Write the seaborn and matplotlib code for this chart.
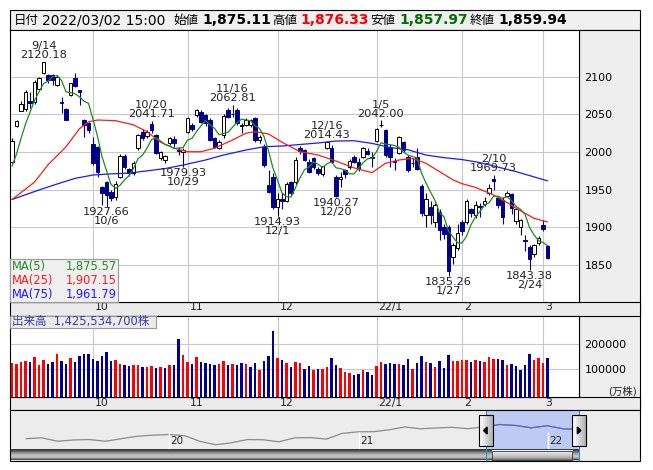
import numpy as np
import pandas as pd
import matplotlib
matplotlib.use('Agg')
import matplotlib.pyplot as plt
import matplotlib.transforms as mtransforms
from matplotlib.patches import Rectangle, Polygon
import seaborn as sns

# ── data ────────────────────────────────────────────────
holidays = ['2021-09-20', '2021-09-23', '2021-11-03', '2021-11-23', '2021-12-31',
            '2022-01-03', '2022-01-10', '2022-02-11', '2022-02-23']
dates = pd.bdate_range('2021-09-03', '2022-03-02')
dates = dates[~dates.isin(pd.to_datetime(holidays))]

opens = [1987, 2034, 2055, 2057.5, 2068, 2067, 2084, 2105, 2102, 2102,
         2089, 2067, 2057.5, 2075.6, 2098, 2082, 2042.5, 2038, 2010, 2007,
         1954, 1960.6, 1947, 1940, 1967, 1994.7, 1977, 1972, 2005, 2027,
         2021, 2037, 2022.6, 1992, 1989.4, 2011.5, 2017, 2003, 2000, 2027,
         2036, 2049, 2053.5, 2049, 2042.5, 2018, 2006, 2022, 2056, 2051,
         2056, 2034, 2036, 2036, 2045, 2016, 2007, 1956, 1967, 1927,
         1938, 1935.5, 1960.6, 1960.6, 2006, 2002.7, 1987, 1991.6, 1977, 1971,
         2006, 2004.8, 1967, 1964, 1976, 1980, 1993.8, 1986.7, 1993.8, 2002,
         1993, 2015, 2035.8, 2028.8, 2007, 1988, 1999, 2013, 1993.8, 1986,
         1993.8, 1955, 1916, 1927.5, 1907.5, 1921, 1901, 1901, 1861, 1872,
         1907.5, 1907.5, 1924, 1916, 1928, 1931, 1945, 1964, 1938.5, 1936,
         1942, 1944, 1909, 1901, 1883, 1874, 1864, 1879, 1903, 1875.11]
highs = [2018, 2043, 2068, 2082, 2080, 2095, 2100, 2120.18, 2103, 2104,
         2102, 2073, 2059, 2092, 2105, 2083, 2044, 2040, 2020, 2008,
         1955, 1962, 1950, 1962, 1997, 1997, 1979, 1988, 2024, 2030,
         2029, 2041.71, 2024, 2002, 1996, 2020, 2021, 2007, 2005, 2046,
         2038, 2057, 2056, 2051, 2045, 2020, 2016, 2050, 2058, 2062.81,
         2058, 2038, 2045, 2044, 2047, 2023, 2010, 1976, 1972, 1945,
         1945, 1960, 1962, 1993, 2008, 2004, 1991, 1994, 1980, 1982,
         2014.43, 2009, 1969, 1973, 1978, 1991, 1996, 1992, 2007, 2006,
         2000, 2032, 2042.00, 2030, 2010, 1992, 2021, 2015, 1996, 1992,
         2005, 1958, 1946, 1935, 1932, 1925, 1905, 1903, 1879, 1905,
         1910, 1937, 1926, 1935, 1932, 1940, 1957, 1969.73, 1941, 1940,
         1948, 1946, 1926, 1911, 1890, 1876, 1878, 1888, 1909.7, 1876.33]
lows = [1985, 2033, 2054, 2055, 2059, 2064, 2082, 2104, 2091, 2089,
        2087, 2052, 2042, 2074, 2086, 2062, 2020, 2025, 1983, 1967,
        1930, 1927.66, 1935, 1936, 1965, 1978, 1968, 1970, 2003, 2016,
        2018, 2025, 1997, 1990, 1985, 2009, 2007, 1996, 1979.93, 2025,
        2028, 2047, 2038, 2035, 2014, 2005, 2004, 2018, 2045, 2046,
        2036, 2025, 2034, 2033, 2013, 2012, 1980, 1945, 1925, 1914.93,
        1925, 1933, 1943, 1958, 1998, 1988, 1972, 1978, 1970, 1968,
        2004, 1985, 1940.27, 1954, 1965, 1978, 1985, 1975, 1992, 1996,
        1980, 2013, 2033, 1993, 1980, 1976, 1997, 2000, 1973, 1980,
        1976, 1915, 1901, 1905, 1900, 1883, 1885, 1835.26, 1852, 1870,
        1890, 1905, 1914, 1912, 1914, 1928, 1943, 1950, 1926, 1905,
        1940, 1918, 1905, 1890, 1868, 1843.38, 1860, 1876, 1895, 1857.97]
closes = [2014, 2041, 2064, 2080, 2065, 2092.5, 2098, 2119, 2095.5, 2095,
          2100, 2065.5, 2043, 2091, 2087, 2080, 2036, 2029, 1985, 1974,
          1945, 1943, 1938.5, 1958, 1994.7, 1980.5, 1971.7, 1986, 2022.6, 2018,
          2027, 2029, 1999, 2000.4, 1994.7, 2018, 2011.5, 2002, 2002.7, 2044.7,
          2030, 2056, 2040.3, 2038, 2016, 2007, 2013.7, 2048, 2046, 2050,
          2038, 2036, 2042.5, 2042, 2016, 2020, 1982.6, 1947, 1927, 1937,
          1935, 1957.5, 1945, 1989.4, 2002, 1989.4, 1974, 1980.5, 1972.6, 1981.6,
          2013, 1987, 1941, 1967.5, 1971, 1988.5, 1987, 1977, 2005, 1998,
          1992, 2030.5, 2036, 1996, 1994, 1987, 2019.5, 2002.7, 1976, 1985,
          1978, 1918.6, 1937, 1916, 1929.6, 1896.5, 1891, 1842, 1876.5, 1892,
          1894.5, 1935.4, 1918.6, 1929.6, 1927.5, 1935.5, 1952, 1962, 1929.6, 1914,
          1946, 1926, 1924, 1909.7, 1882, 1858, 1876, 1886.4, 1897.5, 1859.94]
# 出来高 (万株)
volumes = [124300, 120300, 129700, 133800, 129700, 148600, 116200, 136500, 120300, 128400,
           160800, 132400, 120300, 144600, 128400, 152700, 160800, 159500, 140500, 132400,
           152700, 168900, 132400, 136500, 120300, 114900, 112200, 116200, 116200, 108100,
           108100, 112200, 104100, 108100, 104100, 116200, 116200, 221600, 156800, 128400,
           120300, 148600, 128400, 124300, 121600, 116200, 120300, 132400, 116200, 120300,
           116200, 124300, 120300, 108100, 124300, 95900, 132400, 152700, 254100, 144600,
           137800, 124300, 108100, 128400, 124300, 100000, 112200, 95900, 100000, 100000,
           108100, 145900, 116200, 104100, 87800, 83800, 77000, 79700, 95900, 87800,
           75700, 112200, 128400, 120300, 124300, 121600, 120300, 116200, 140500, 100000,
           124300, 152700, 128400, 124300, 108100, 132400, 104100, 156800, 132400, 132400,
           136500, 136500, 128400, 136500, 132400, 128400, 148600, 140500, 140500, 136500,
           116200, 120300, 112200, 95900, 116200, 160800, 136500, 144600, 124300, 142553.47]
prior_closes = [1960, 1961, 1984, 1987]

ma25_idx = [0, 5, 8, 12, 15, 17, 19, 23, 27, 30, 33, 36, 39, 42, 45, 49, 52, 54, 57, 60,
            64, 68, 72, 76, 80, 83, 86, 89, 92, 95, 98, 100, 103, 107, 110, 113, 116, 119]
ma25_val = [1937, 1960, 1983, 2007, 2031, 2040, 2042.5, 2041.6, 2036, 2027,
            2013, 2005, 2000.4, 2000.4, 2005, 2016, 2025, 2027, 2024, 2013,
            2000.4, 1996, 1988, 1979, 1972.6, 1985, 1989.4, 1991.5, 1985, 1974,
            1963, 1958, 1953, 1943, 1933, 1922, 1912, 1907.15]
ma75_idx = [0, 6, 10, 14, 18, 22, 26, 30, 34, 38, 43, 47, 52, 56, 60,
            64, 68, 72, 76, 80, 84, 88, 92, 96, 100, 104, 108, 112, 116, 119]
ma75_val = [1937, 1949.6, 1957.5, 1965, 1969.5, 1971, 1972, 1975, 1978, 1982.7,
            1989.4, 1996, 2002.7, 2007, 2008, 2010, 2012, 2014.6, 2015, 2011.5,
            2006, 2003, 1996, 1992.5, 1990, 1986, 1980, 1974, 1967, 1961.79]

hi_marks = [7, 31, 49, 70, 82, 107]
lo_marks = [21, 38, 59, 72, 97, 115]

# navigator (long history, month end)
nav_dates = list(pd.date_range('2019-04-01', '2022-03-01', freq='MS') - pd.Timedelta(days=1)) + [dates[-1]]
nav_vals = [1591.64, 1617.93, 1512.28, 1551.14, 1565.14, 1511.86, 1587.80, 1667.01, 1699.36, 1721.36,
            1684.44, 1510.87, 1403.04, 1464.03, 1563.67, 1558.77, 1496.06, 1618.18, 1625.49, 1579.33,
            1754.92, 1804.68, 1808.78, 1864.49, 1954.00, 1898.24, 1922.98, 1943.57, 1901.08, 1960.70,
            2030.16, 2001.18, 1928.35, 1992.33, 1895.93, 1886.93, 1859.94]

# ── derived ─────────────────────────────────────────────
n = len(dates)
idx = np.arange(n)
o = np.array(opens); h = np.array(highs); l = np.array(lows); c = np.array(closes)
ma5 = pd.Series(prior_closes + closes).rolling(5).mean().iloc[4:].to_numpy()
up = c >= o
prev = np.r_[prior_closes[-1], c[:-1]]
vol_up = c >= prev
month_idx = [i for i in range(1, n) if dates[i].month != dates[i - 1].month]
month_lbl = [f"{dates[i].year % 100}/{dates[i].month}" if dates[i].month == 1 else str(dates[i].month)
             for i in month_idx]

# ── style ───────────────────────────────────────────────
sns.set_theme(style='white')
plt.rcParams['font.family'] = ['DejaVu Sans', 'Noto Sans CJK JP']
plt.rcParams['axes.linewidth'] = 0.8

NAVY = '#00008b'; VRED = '#ff0000'; VNAVY = '#000099'
GREEN = '#1e8c1e'; RED = '#ff1a1a'; BLUE = '#1a1aff'
GRID = '#c8c8c8'; PANEL = '#eeeeee'; TXT = '#222222'

W, H = 653, 470
fig = plt.figure(figsize=(W / 100, H / 100), dpi=100)
fig.patch.set_facecolor('white')


def px_axes(x0, y0, x1, y1, z):
    a = fig.add_axes([x0 / W, 1 - y1 / H, (x1 - x0) / W, (y1 - y0) / H])
    a.set_zorder(z)
    return a


def rect(a, x0, y0, x1, y1, fc, ec='none', lw=0.8, z=1):
    a.add_patch(Rectangle((x0, y0), x1 - x0, y1 - y0, facecolor=fc, edgecolor=ec, lw=lw, zorder=z))


bg = px_axes(0, 0, W, H, 0)
bg.set_xlim(0, W); bg.set_ylim(H, 0); bg.axis('off')
rect(bg, 10, 9.5, 640, 30, '#f0f0f0', 'black')
rect(bg, 579, 30, 640, 410, PANEL, 'black')
rect(bg, 10, 302, 640, 315.7, '#ebebeb', 'black')
rect(bg, 10, 397, 640, 410, '#ebebeb', 'black')

# header
hdr = [('日付', 13.5, 9, 'normal', 'black'),
       (dates[-1].strftime('%Y/%m/%d') + ' 15:00', 41.5, 10, 'normal', 'black'),
       ('始値', 173, 9, 'normal', 'black'), (f'{opens[-1]:,.2f}', 202, 10, 'bold', 'black'),
       ('高値', 272, 9, 'normal', 'black'), (f'{highs[-1]:,.2f}', 300, 10, 'bold', '#ff0000'),
       ('安値', 370, 9, 'normal', 'black'), (f'{lows[-1]:,.2f}', 399, 10, 'bold', '#007000'),
       ('終値', 470, 9, 'normal', 'black'), (f'{closes[-1]:,.2f}', 498, 10, 'bold', 'black')]
for s, x, fs, fw, col in hdr:
    bg.text(x, 20.5, s, ha='left', va='center', fontsize=fs, fontweight=fw, color=col)

# ── price panel ─────────────────────────────────────────
ax = px_axes(10, 30, 579, 302, 2)
ax.set_facecolor('white')
ax.vlines(idx, l, h, colors=np.where(up, 'black', NAVY), lw=0.8, zorder=2)
ax.bar(idx, np.maximum(np.abs(c - o), 0.6), bottom=np.minimum(o, c), width=0.78,
       color=np.where(up, 'white', NAVY), edgecolor=np.where(up, 'black', NAVY), lw=0.7, zorder=3)
sns.lineplot(x=ma75_idx, y=ma75_val, ax=ax, color=BLUE, lw=0.9, zorder=4)
sns.lineplot(x=ma25_idx, y=ma25_val, ax=ax, color=RED, lw=0.9, zorder=4)
sns.lineplot(x=idx, y=ma5, ax=ax, color=GREEN, lw=0.9, zorder=4)

for i in hi_marks:
    d = dates[i]
    ax.annotate(f'{d.month}/{d.day}\n{highs[i]:.2f}', (i, highs[i]), xytext=(0, 1),
                textcoords='offset points', ha='center', va='bottom', fontsize=8.2,
                linespacing=0.9, color=TXT, zorder=6)
for i in lo_marks:
    d = dates[i]
    ax.annotate(f'{lows[i]:.2f}\n{d.month}/{d.day}', (i, lows[i]), xytext=(0, -0.5),
                textcoords='offset points', ha='center', va='top', fontsize=8.2,
                linespacing=0.9, color=TXT, zorder=6)

ax.set_xlim(-0.45, 126)
ax.set_ylim(1800.9, 2162)
ax.set_xticks(month_idx); ax.set_xticklabels([])
ax.set_yticks(range(1850, 2101, 50))
ax.yaxis.tick_right()
ax.tick_params(axis='both', length=0)
ax.tick_params(axis='y', pad=4, labelsize=8, labelcolor='black')
ax.grid(True, color=GRID, lw=0.8)
ax.set_axisbelow(True)
for sp in ax.spines.values():
    sp.set_color('black'); sp.set_linewidth(0.8)
trans = mtransforms.blended_transform_factory(ax.transData, ax.transAxes)
for i, s in zip(month_idx, month_lbl):
    ax.text(i + 0.4, -0.02, s, transform=trans, ha='left', va='center', fontsize=7.8,
            color=TXT, clip_on=False)

# ── volume panel ────────────────────────────────────────
vfloor = -13400
av = px_axes(10, 315.7, 579, 397, 2)
av.set_facecolor('white')
av.bar(idx, np.array(volumes) - vfloor, bottom=vfloor, width=0.6,
       color=np.where(vol_up, VRED, VNAVY), lw=0, zorder=3)
av.set_xlim(-0.45, 126)
av.set_ylim(vfloor, 315800)
av.set_xticks(month_idx); av.set_xticklabels([])
av.set_yticks([100000, 200000]); av.set_yticklabels(['100000', '200000'])
av.yaxis.tick_right()
av.tick_params(axis='both', length=0)
av.tick_params(axis='y', pad=4, labelsize=8, labelcolor='black')
av.grid(True, color=GRID, lw=0.8)
av.set_axisbelow(True)
for sp in av.spines.values():
    sp.set_color('black'); sp.set_linewidth(0.8)
tv = mtransforms.blended_transform_factory(av.transData, av.transAxes)
for i, s in zip(month_idx, month_lbl):
    av.text(i + 0.4, -0.07, s, transform=tv, ha='left', va='center', fontsize=7.8,
            color=TXT, clip_on=False)
bg.text(637, 391, '(万株)', ha='right', va='center', fontsize=7.5, color=TXT)

# ── navigator ───────────────────────────────────────────
NAV_T, NAV_B, SB_T = 410, 461, 450
nav_x0, nav_x1 = pd.Timestamp('2019-02-28'), pd.Timestamp('2022-06-28')


def nav_px(d):
    return 10 + (pd.Timestamp(d) - nav_x0).days / (nav_x1 - nav_x0).days * 630


an = px_axes(10, NAV_T, 640, NAV_B, 2)
an.set_facecolor('#ececec')
an.axvspan(dates[0], dates[-1], color='#bccaf4', lw=0)
sns.lineplot(x=nav_dates, y=nav_vals, ax=an, color='#8a8a8a', lw=0.9)
sel = [k for k, d in enumerate(nav_dates) if d >= pd.Timestamp('2021-08-31')]
sns.lineplot(x=[nav_dates[k] for k in sel], y=[nav_vals[k] for k in sel], ax=an,
             color='#6068c0', lw=0.9)
an.set_xlim(nav_x0, nav_x1)
an.set_ylim(900, 2480)
an.set_xticks([]); an.set_yticks([])
an.set_xlabel(''); an.set_ylabel('')
for sp in an.spines.values():
    sp.set_visible(False)

# ── overlay (legend boxes, nav controls) ───────────────
ov = px_axes(0, 0, W, H, 10)
ov.set_xlim(0, W); ov.set_ylim(H, 0); ov.axis('off')
ov.patch.set_alpha(0)

rect(ov, 10, 259, 118, 302, '#efefef', '#999999')
ma_rows = [('MA(5)', ma5[-1], GREEN, 266.5), ('MA(25)', ma25_val[-1], RED, 280.5),
           ('MA(75)', ma75_val[-1], BLUE, 294.5)]
for name, val, col, y in ma_rows:
    ov.text(12, y, name, ha='left', va='center', fontsize=8.3, color=col)
    ov.text(117, y, f'{val:,.2f}', ha='right', va='center', fontsize=8.3, color=col)

rect(ov, 10, 315.7, 156, 327.7, '#ebebeb', '#999999')
ov.text(12, 321.9, f'出来高  {volumes[-1] * 10000:,.0f}株', ha='left', va='center',
        fontsize=8.3, color='#3a3aa0')

for yr in ['2020-01-01', '2021-01-01', '2022-01-01']:
    xp = nav_px(yr)
    ov.vlines(xp, 432, SB_T, color='white', lw=1.0, zorder=2)
    ov.text(xp + 1.5, 441, yr[2:4], ha='left', va='center', fontsize=7.5, color=TXT, zorder=3)

grad = np.array([0.22, 0.3, 0.42, 0.55, 0.66, 0.74, 0.78, 0.72, 0.55, 0.3])[:, None]
ov.imshow(grad, extent=(10, 579, NAV_B - 0.5, SB_T), cmap='gray', vmin=0, vmax=1,
          aspect='auto', zorder=3)
x_a, x_b = nav_px(dates[0]), nav_px(dates[-1])
thumb = np.array([0.97, 0.93, 0.9, 0.86, 0.82, 0.78, 0.74, 0.68, 0.6, 0.45])[:, None]
ov.imshow(thumb, extent=(x_a + 6, x_b - 7, NAV_B - 1, SB_T + 0.5), cmap='gray', vmin=0, vmax=1,
          aspect='auto', zorder=4)
rect(ov, x_a + 6, SB_T + 0.5, x_b - 7, NAV_B - 1, 'none', '#333333', lw=0.6, z=5)
ov.vlines([x_a, x_b], NAV_T, NAV_B, color='#1f9bd0', lw=0.8, zorder=5)

hgrad = np.array([[0.98, 0.95, 0.9, 0.85, 0.8, 0.75, 0.7]])
for xc, sgn in [(x_a, -1), (x_b, 1)]:
    ov.imshow(hgrad, extent=(xc - 7, xc + 7, 446, 415), cmap='gray', vmin=0, vmax=1,
              aspect='auto', zorder=6)
    rect(ov, xc - 7, 415, xc + 7, 446, 'none', 'black', lw=0.8, z=7)
    ov.add_patch(Polygon([(xc + 2 * sgn, 430.5), (xc - 1.5 * sgn, 427), (xc - 1.5 * sgn, 434)],
                         closed=True, color='black', zorder=8))

rect(ov, 10, NAV_T, 640, NAV_B, 'none', 'black', lw=0.8, z=9)
ov.set_xlim(0, W); ov.set_ylim(H, 0)

fig.savefig('out.png', dpi=100, facecolor='white')
